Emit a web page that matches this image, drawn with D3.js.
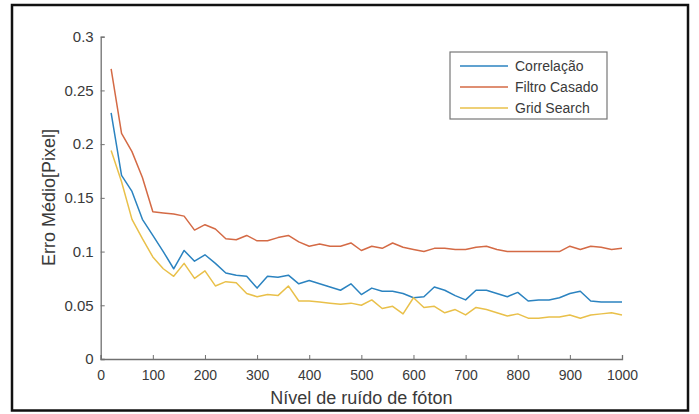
<!DOCTYPE html>
<html>
<head>
<meta charset="utf-8">
<script src="https://cdn.jsdelivr.net/npm/d3@7"></script>
<style>
  body { margin: 0; background: #fff; }
  svg { display: block; font-family: "Liberation Sans", Arial, sans-serif; }
</style>
</head>
<body>
<svg></svg>
<script>
const width = 699;
const height = 414;

const noiseLevels = [20, 40, 60, 80, 100, 120, 140, 160, 180, 200, 220, 240, 260, 280, 300, 320, 340, 360, 380, 400,
    420, 440, 460, 480, 500, 520, 540, 560, 580, 600, 620, 640, 660, 680, 700, 720, 740, 760, 780, 800,
    820, 840, 860, 880, 900, 920, 940, 960, 980, 1000];

const correlacao = [0.229, 0.171, 0.156, 0.130, 0.115, 0.100, 0.084, 0.101, 0.091, 0.097, 0.089, 0.080, 0.078, 0.077, 0.066, 0.077, 0.076, 0.078, 0.070, 0.073,
    0.070, 0.067, 0.064, 0.070, 0.060, 0.066, 0.063, 0.063, 0.061, 0.057, 0.058, 0.067, 0.064, 0.059, 0.055, 0.064, 0.064, 0.061, 0.058, 0.062,
    0.054, 0.055, 0.055, 0.057, 0.061, 0.063, 0.054, 0.053, 0.053, 0.053];

const filtroCasado = [0.270, 0.210, 0.193, 0.169, 0.137, 0.136, 0.135, 0.133, 0.120, 0.125, 0.121, 0.112, 0.111, 0.115, 0.110, 0.110, 0.113, 0.115, 0.109, 0.105,
    0.107, 0.105, 0.105, 0.108, 0.101, 0.105, 0.103, 0.108, 0.104, 0.102, 0.100, 0.103, 0.103, 0.102, 0.102, 0.104, 0.105, 0.102, 0.100, 0.100,
    0.100, 0.100, 0.100, 0.100, 0.105, 0.102, 0.105, 0.104, 0.102, 0.103];

const gridSearch = [0.194, 0.165, 0.130, 0.112, 0.095, 0.084, 0.077, 0.089, 0.075, 0.082, 0.068, 0.072, 0.071, 0.061, 0.058, 0.060, 0.059, 0.068, 0.054, 0.054,
    0.053, 0.052, 0.051, 0.052, 0.050, 0.055, 0.047, 0.049, 0.042, 0.057, 0.048, 0.049, 0.043, 0.046, 0.041, 0.048, 0.046, 0.043, 0.040, 0.042,
    0.038, 0.038, 0.039, 0.039, 0.041, 0.038, 0.041, 0.042, 0.043, 0.041];

const seriesNames = ["Correlação", "Filtro Casado", "Grid Search"];
const seriesColors = ["#2b83c0", "#d46a45", "#e9c04a"];
const xTicks = [0, 100, 200, 300, 400, 500, 600, 700, 800, 900, 1000];
const yTicks = [0, 0.05, 0.1, 0.15, 0.2, 0.25, 0.3];

const svg = d3.select("svg").attr("width", width).attr("height", height);

// outer frame of the picture
svg.append("rect")
    .attr("x", 12).attr("y", 5)
    .attr("width", 676).attr("height", 405.5)
    .attr("fill", "none")
    .attr("stroke", "#111")
    .attr("stroke-width", 2.5);

const plot = { left: 100.7, right: 622, top: 36.7, bottom: 359 };
const x = d3.scaleLinear().domain([0, 1000]).range([plot.left, plot.right]);
const y = d3.scaleLinear().domain([0, 0.3]).range([plot.bottom, plot.top]);

const axisColor = "#707070";
const textColor = "#3a3a3a";

// x axis (ticks point inward)
const xAxis = svg.append("g")
    .attr("transform", `translate(0,${plot.bottom})`)
    .call(d3.axisBottom(x).tickValues(xTicks).tickSize(-4).tickPadding(11).tickFormat(d3.format("d")));
xAxis.select(".domain").attr("stroke", axisColor).attr("stroke-width", 1.3);
xAxis.selectAll(".tick line").attr("stroke", axisColor);
xAxis.selectAll(".tick text").attr("fill", textColor).attr("font-size", 14).attr("font-family", "Liberation Sans, Arial, sans-serif");

const yAxis = svg.append("g")
    .attr("transform", `translate(${plot.left},0)`)
    .call(d3.axisLeft(y).tickValues(yTicks).tickSize(-4).tickPadding(7).tickFormat(d => d3.format("")(+d.toFixed(2))));
yAxis.select(".domain").attr("stroke", axisColor).attr("stroke-width", 1.3);
yAxis.selectAll(".tick line").attr("stroke", axisColor);
yAxis.selectAll(".tick text").attr("fill", textColor).attr("font-size", 15).attr("font-family", "Liberation Sans, Arial, sans-serif");

// axis labels
svg.append("text")
    .attr("x", (plot.left + plot.right) / 2)
    .attr("y", 404)
    .attr("text-anchor", "middle")
    .attr("font-size", 18)
    .attr("fill", textColor)
    .text("Nível de ruído de fóton");

svg.append("text")
    .attr("transform", `translate(55,${197.5}) rotate(-90)`)
    .attr("text-anchor", "middle")
    .attr("font-size", 18)
    .attr("fill", textColor)
    .text("Erro Médio[Pixel]");

// lines
const allSeries = [correlacao, filtroCasado, gridSearch];
const line = d3.line()
    .x((d, i) => x(noiseLevels[i]))
    .y(d => y(d));

svg.selectAll(".series")
    .data(allSeries)
    .enter()
    .append("path")
    .attr("class", "series")
    .attr("d", line)
    .attr("fill", "none")
    .attr("stroke", (d, i) => seriesColors[i])
    .attr("stroke-width", 1.5)
    .attr("stroke-linejoin", "round");

// legend
const legend = svg.append("g").attr("transform", "translate(450,52)");
legend.append("rect")
    .attr("width", 157).attr("height", 67)
    .attr("fill", "#fff")
    .attr("stroke", "#777")
    .attr("stroke-width", 1.2);

const rows = legend.selectAll(".row")
    .data(seriesNames)
    .enter()
    .append("g")
    .attr("class", "row")
    .attr("transform", (d, i) => `translate(0,${14 + i * 21})`);

rows.append("line")
    .attr("x1", 10).attr("x2", 58)
    .attr("stroke", (d, i) => seriesColors[i])
    .attr("stroke-width", 1.5);

rows.append("text")
    .attr("x", 65)
    .attr("dy", "0.35em")
    .attr("font-size", 14)
    .attr("fill", textColor)
    .text(d => d);
</script>
</body>
</html>
